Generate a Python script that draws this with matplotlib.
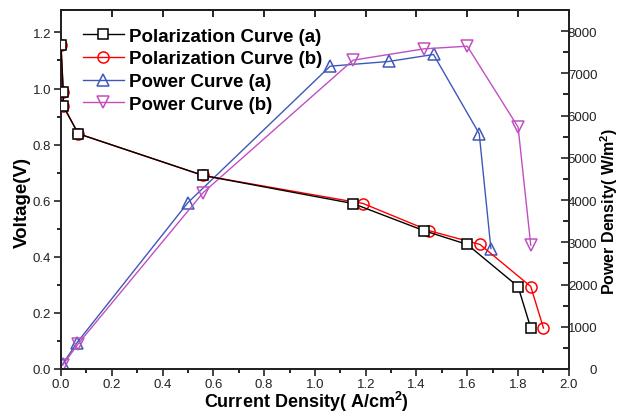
import numpy as np
import matplotlib
matplotlib.use("Agg")
import matplotlib.pyplot as plt
from matplotlib.ticker import MultipleLocator

plt.rcParams['font.family'] = ['Liberation Sans', 'DejaVu Sans']
plt.rcParams['mathtext.fontset'] = 'custom'
plt.rcParams['mathtext.rm'] = 'Liberation Sans:bold'
plt.rcParams['mathtext.bf'] = 'Liberation Sans:bold'

# =========================
# DATA
# =========================

pol_a_x = [0.0, 0.009, 0.009, 0.068, 0.56, 1.15, 1.43, 1.60, 1.80, 1.85]
pol_a_y = [1.157, 0.988, 0.938, 0.839, 0.690, 0.590, 0.493, 0.444, 0.294, 0.146]

pol_b_x = [0.0, 0.009, 0.009, 0.068, 0.56, 1.19, 1.45, 1.65, 1.85, 1.90]
pol_b_y = [1.157, 0.988, 0.938, 0.839, 0.690, 0.590, 0.493, 0.444, 0.294, 0.146]

pow_a_x = [0.007, 0.062, 0.50, 1.06, 1.29, 1.467, 1.647, 1.693]
pow_a_y = [118, 615, 3940, 7170, 7281, 7447, 5572, 2853]

pow_b_x = [0.007, 0.068, 0.56, 1.15, 1.43, 1.60, 1.80, 1.85]
pow_b_y = [90, 600, 4177, 7312, 7581, 7643, 5728, 2931]

labels = ["Polarization Curve (a)", "Polarization Curve (b)",
          "Power Curve (a)", "Power Curve (b)"]

BLUE = "#3f58b8"
MAGENTA = "#c050c0"

# =========================
# PLOT
# =========================

fig = plt.figure(figsize=(6.19, 4.14), dpi=100)
ax = fig.add_axes([0.0985, 0.1063, 0.8205, 0.8671])
ax2 = ax.twinx()

h1, = ax.plot(pol_a_x, pol_a_y, color="black", lw=1, marker="s", ms=7,
              mfc="white", mec="black", mew=1.1, zorder=4)
h2, = ax.plot(pol_b_x, pol_b_y, color="red", lw=1, marker="o", ms=8,
              mfc="none", mec="red", mew=1.1, zorder=3)
h3, = ax2.plot(pow_a_x, pow_a_y, color=BLUE, lw=1, marker="^", ms=9,
               mfc="none", mec=BLUE, mew=1.1)
h4, = ax2.plot(pow_b_x, pow_b_y, color=MAGENTA, lw=1, marker="v", ms=9,
               mfc="none", mec=MAGENTA, mew=1.1)
ax.set_zorder(ax2.get_zorder() + 1)
ax.patch.set_visible(False)

ax.set_xlim(0, 2.0)
ax.set_ylim(0, 1.28)
ax2.set_ylim(0, 8500)

ax.xaxis.set_major_locator(MultipleLocator(0.2))
ax.xaxis.set_minor_locator(MultipleLocator(0.1))
ax.yaxis.set_major_locator(MultipleLocator(0.2))
ax.yaxis.set_minor_locator(MultipleLocator(0.1))
ax2.yaxis.set_major_locator(MultipleLocator(1000))
ax2.yaxis.set_minor_locator(MultipleLocator(500))

ax.set_xticks([0.0, 0.2, 0.4, 0.6, 0.8, 1.0, 1.2, 1.4, 1.6, 1.8, 2.0])
ax.set_xticklabels(["0.0", "0.2", "0.4", "0.6", "0.8", "1.0", "1.2",
                    "1.4", "1.6", "1.8", "2.0"])
ax.set_yticks([0.0, 0.2, 0.4, 0.6, 0.8, 1.0, 1.2])
ax.set_yticklabels(["0.0", "0.2", "0.4", "0.6", "0.8", "1.0", "1.2"])

ax.tick_params(which="major", direction="out", length=5, width=1.2,
               labelsize=9.5, colors="#222222", pad=2)
ax.tick_params(axis="x", which="major", pad=1.5)
ax.tick_params(which="minor", direction="out", length=3, width=1.2)
ax2.tick_params(which="major", direction="in", length=6, width=1.2,
                labelsize=9.5, colors="#222222", pad=20.5)
ax2.tick_params(which="minor", direction="in", length=4, width=1.2)
for lbl in ax2.get_yticklabels():
    lbl.set_horizontalalignment("right")

top = ax.secondary_xaxis("top")
top.xaxis.set_major_locator(MultipleLocator(0.2))
top.tick_params(direction="in", length=5, width=1.2, labeltop=False)

for a in (ax, ax2):
    for s in a.spines.values():
        s.set_linewidth(1.3)
        s.set_color("#222222")
top.spines["top"].set_linewidth(1.3)

# axis titles, placed where the reference has them
fig.text(306 / 619, 1 - 408.5 / 414, "Current Density( A/cm$^{2}$)",
         fontsize=13, fontweight="bold", ha="center", va="baseline")
fig.text(22 / 619, 1 - 203 / 414, "Voltage(V)", fontsize=13.5,
         fontweight="bold", rotation=90, ha="center", va="center")
fig.text(609.5 / 619, 1 - 211 / 414, "Power Density( W/m$^{2}$)",
         fontsize=11.5, fontweight="bold", rotation=90, ha="center",
         va="center")

ax.legend([h1, h2, h3, h4], labels, loc="upper left",
          bbox_to_anchor=(0.043, 0.951), frameon=False, borderaxespad=0,
          borderpad=0, handlelength=2.2, handletextpad=0.27,
          labelspacing=0.3, prop={"size": 13.5, "weight": "bold"})

fig.savefig("out.png", dpi=100)
